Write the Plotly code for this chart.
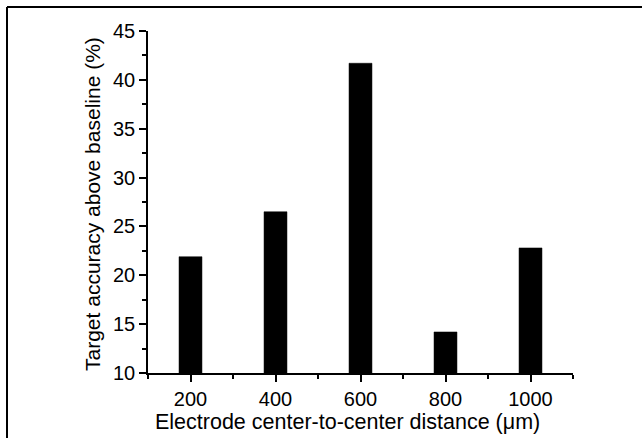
import plotly.graph_objects as go

distances = [200, 400, 600, 800, 1000]
accuracy = [21.9, 26.5, 41.7, 14.2, 22.8]
x_ticks = [200, 400, 600, 800, 1000]
y_ticks = [10, 15, 20, 25, 30, 35, 40, 45]
x_title = "Electrode center-to-center distance (μm)"
y_title = "Target accuracy above baseline (%)"

W, H = 642, 438
L, R, T, B = 148, 69, 31, 65
pw = W - L - R
ph = H - T - B

def px_to_paper_x(px):
    return (px - L) / pw

def px_to_paper_y(py):
    return (H - B - py) / ph

fig = go.Figure()
fig.add_trace(go.Bar(
    x=distances, y=accuracy, width=54,
    marker=dict(color="black", line=dict(color="black", width=0.5)),
    showlegend=False,
))

font = "Arial, Liberation Sans, sans-serif"
fig.update_layout(
    width=W, height=H,
    margin=dict(l=L, r=R, t=T, b=B, pad=0, autoexpand=False),
    paper_bgcolor="white", plot_bgcolor="white",
    font=dict(family=font, color="black", size=21),
    xaxis=dict(
        range=[100, 1100], tickvals=x_ticks, ticktext=[str(v) for v in x_ticks],
        showline=True, linecolor="black", linewidth=1.5, mirror=False,
        ticks="outside", ticklen=7, tickwidth=1.5, tickcolor="black",
        minor=dict(ticks="outside", ticklen=4, tickwidth=1.5, tickcolor="black", dtick=100, tick0=100),
        showgrid=False, zeroline=False, automargin=False,
        tickfont=dict(size=20),
    ),
    yaxis=dict(
        range=[10, 45], tickvals=y_ticks,
        showline=True, linecolor="black", linewidth=1.5, mirror=False,
        ticks="outside", ticklen=7, tickwidth=1.5, tickcolor="black",
        minor=dict(ticks="outside", ticklen=4, tickwidth=1.5, tickcolor="black", dtick=2.5, tick0=10),
        showgrid=False, zeroline=False, automargin=False,
        tickfont=dict(size=20),
    ),
    annotations=[
        dict(text=x_title, xref="paper", yref="paper",
             x=px_to_paper_x(347), y=px_to_paper_y(422),
             xanchor="center", yanchor="middle", showarrow=False,
             font=dict(size=21.5)),
        dict(text=y_title, xref="paper", yref="paper",
             x=px_to_paper_x(93), y=px_to_paper_y(204),
             xanchor="center", yanchor="middle", showarrow=False, textangle=-90,
             font=dict(size=21)),
    ],
    shapes=[
        dict(type="line", xref="paper", yref="paper",
             x0=px_to_paper_x(7), x1=px_to_paper_x(650),
             y0=px_to_paper_y(7), y1=px_to_paper_y(7),
             line=dict(color="black", width=2)),
        dict(type="line", xref="paper", yref="paper",
             x0=px_to_paper_x(7), x1=px_to_paper_x(7),
             y0=px_to_paper_y(7), y1=px_to_paper_y(450),
             line=dict(color="black", width=2)),
    ],
)

fig.write_html("out.html")
